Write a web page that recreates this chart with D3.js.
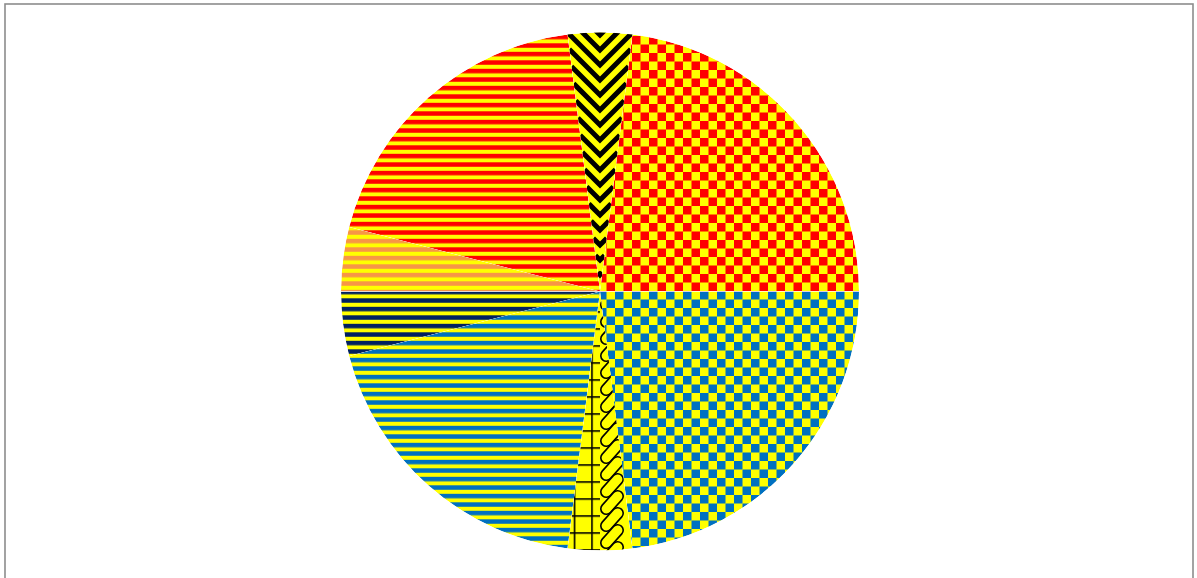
<!DOCTYPE html>
<html><head><meta charset="utf-8">
<script src="https://cdn.jsdelivr.net/npm/d3@7"></script>
<style>html,body{margin:0;padding:0;background:#fff;overflow:hidden}</style>
</head><body>
<svg id="c" width="1197" height="578"></svg>
<script>
// ---- data ----
const categories = ["Chevron","Red check","Blue check","Chain","Grid","Blue stripe","Navy stripe","Orange stripe","Red stripe"];
const values = [4, 23, 23, 2, 2, 19, 4, 4, 19];
const foreColors = ["#000000","#FF0000","#0070C0","#000000","#000000","#0070C0","#002060","#F79646","#FF0000"];
const patternKinds = ["chevron","checker","checker","chain","grid","hstripe","hstripe","hstripe","hstripe"];
const backColor = "#FFFF00";

// ---- layout ----
const cx = 600, cy = 291.5, R = 259;
const svg = d3.select("#c");
const defs = svg.append("defs");

svg.append("rect").attr("x",5).attr("y",4).attr("width",1188).attr("height",640)
  .attr("fill","#fff").attr("stroke","#8c8c8c").attr("stroke-width",1.6);

const total = d3.sum(values);
const start = -values[0] / total * Math.PI;
const pie = d3.pie().sort(null).value(d => d.v).startAngle(start).endAngle(start + 2*Math.PI);
const arcs = pie(values.map((v,i) => ({v, i})));
const arc = d3.arc().innerRadius(0).outerRadius(R);

const g = svg.append("g").attr("transform", `translate(${cx},${cy})`);

function makePattern(kind, color, id) {
  const p = defs.append("pattern").attr("id", id).attr("patternUnits","userSpaceOnUse");
  if (kind === "checker") {
    const c = 8.5;
    p.attr("x", 3 - cx).attr("y", 2 - cy).attr("width", 2*c).attr("height", 2*c);
    p.append("rect").attr("width",2*c).attr("height",2*c).attr("fill",backColor);
    p.append("rect").attr("x",0).attr("y",0).attr("width",c).attr("height",c).attr("fill",color);
    p.append("rect").attr("x",c).attr("y",c).attr("width",c).attr("height",c).attr("fill",color);
  } else if (kind === "hstripe") {
    const c = 8.5;
    p.attr("x", 0).attr("y", 0.8 - cy).attr("width", 20).attr("height", c);
    p.append("rect").attr("width",20).attr("height",c).attr("fill",backColor);
    p.append("rect").attr("y",0).attr("width",20).attr("height",4.5).attr("fill",color);
  } else if (kind === "grid") {
    const c = 17.5;
    p.attr("x", 591.2 - cx).attr("y", 464.2 - cy).attr("width", c).attr("height", c - 0.5);
    p.append("rect").attr("width",c).attr("height",c).attr("fill",backColor);
    p.append("rect").attr("x",0).attr("y",0).attr("width",1.6).attr("height",c).attr("fill",color);
    p.append("rect").attr("x",0).attr("y",0).attr("width",c).attr("height",1.6).attr("fill",color);
  }
}

arcs.forEach((a, k) => {
  const kind = patternKinds[k];
  const color = foreColors[k];
  const clipId = "clip" + k;
  defs.append("clipPath").attr("id", clipId).append("path").attr("d", arc(a));
  const sg = g.append("g").attr("clip-path", `url(#${clipId})`).attr("class","slice").attr("data-name", categories[k]);
  if (kind === "checker" || kind === "hstripe" || kind === "grid") {
    const pid = "pat" + k;
    makePattern(kind, color, pid);
    sg.append("path").attr("d", arc(a)).attr("fill", `url(#${pid})`);
  } else if (kind === "chevron") {
    sg.append("path").attr("d", arc(a)).attr("fill", backColor);
    const am = (a.startAngle + a.endAngle) / 2;
    const half = (a.endAngle - a.startAngle) / 2;
    const d = [Math.sin(am), -Math.cos(am)], p = [Math.cos(am), Math.sin(am)];
    const pt = (t,u) => [t*d[0] + u*p[0], t*d[1] + u*p[1]];
    const step = 15;
    for (let t = 1.5; t < R + 10; t += step) {
      const w = t * Math.tan(half) * 1.15;
      const pts = [pt(t + w, -w), pt(t, 0), pt(t + w, w)];
      sg.append("path").attr("d", d3.line()(pts)).attr("fill","none")
        .attr("stroke", color).attr("stroke-width", 5).attr("stroke-linejoin","miter");
    }
  } else if (kind === "chain") {
    sg.append("path").attr("d", arc(a)).attr("fill", backColor);
    const xc = 612 - cx;
    for (let y = -10; y < R + 20; y += 17) {
      sg.append("rect").attr("x", -14).attr("y", -5.5).attr("width", 28).attr("height", 11)
        .attr("rx", 5.5).attr("fill", backColor).attr("stroke", color).attr("stroke-width", 1.6)
        .attr("transform", `translate(${xc},${y}) rotate(-48)`);
    }
  }
});
</script>
</body></html>
